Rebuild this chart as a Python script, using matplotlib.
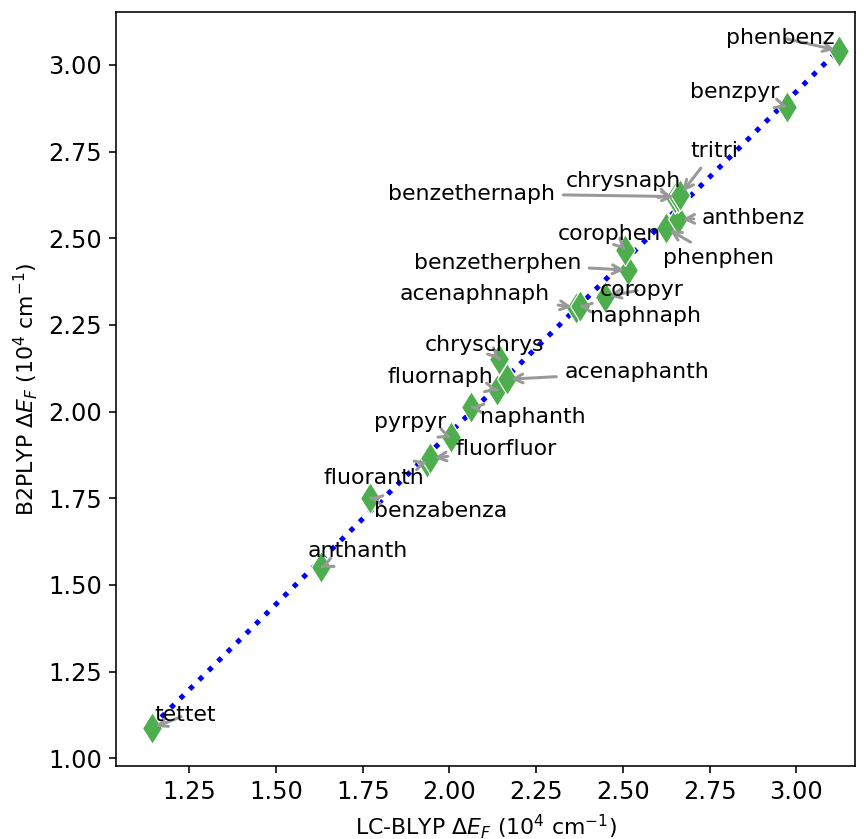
import numpy as np
import matplotlib
matplotlib.use('Agg')
import matplotlib.pyplot as plt

plt.rcParams['font.size'] = 11

# labels and values (10^4 cm^-1)
names = ['tettet', 'anthanth', 'benzabenza', 'fluoranth', 'fluorfluor', 'pyrpyr',
         'naphanth', 'fluornaph', 'acenaphanth', 'chryschrys', 'acenaphnaph', 'naphnaph',
         'coropyr', 'benzetherphen', 'corophen', 'phenphen', 'anthbenz', 'chrysnaph',
         'benzethernaph', 'tritri', 'benzpyr', 'phenbenz']
lc_blyp = [1.142, 1.630, 1.771, 1.935, 1.945, 2.004,
           2.062, 2.138, 2.165, 2.144, 2.365, 2.375,
           2.449, 2.516, 2.507, 2.625, 2.660, 2.650,
           2.658, 2.665, 2.973, 3.122]
b2plyp = [1.087, 1.551, 1.751, 1.855, 1.865, 1.926,
          2.014, 2.062, 2.093, 2.151, 2.300, 2.305,
          2.331, 2.408, 2.466, 2.529, 2.555, 2.615,
          2.620, 2.625, 2.879, 3.041]

# label offsets (points, text centre relative to marker)
offsets = {'tettet': (16.5, 6.5), 'anthanth': (18.5, 8), 'benzabenza': (35.5, -6.5),
           'fluoranth': (-26.5, -8), 'fluorfluor': (38, 4.5), 'pyrpyr': (-20.5, 7.5),
           'naphanth': (31, -5), 'fluornaph': (-28.5, 6.5), 'acenaphanth': (65, 3.5),
           'chryschrys': (-7.5, 7), 'acenaphnaph': (-50.5, 7), 'naphnaph': (33, -5),
           'coropyr': (18, 3.5), 'benzetherphen': (-65.5, 3.5), 'corophen': (-8, 8),
           'phenphen': (26, -15), 'anthbenz': (37.5, 0.5), 'chrysnaph': (-26, 8.5),
           'benzethernaph': (-103, 1.5), 'tritri': (17, 22), 'benzpyr': (-26, 7.5),
           'phenbenz': (-29, 6.5)}

x = np.array(lc_blyp)
y = np.array(b2plyp)

fig = plt.figure(figsize=(6, 839/144), dpi=144)
ax = fig.add_axes([0.134, 0.087, 0.856, 0.899])

k, b = np.polyfit(x, y, 1)
xl = np.array([x.min(), x.max()])
ax.plot(xl, k*xl + b, ':', c='blue', lw=2.5, zorder=1)
ax.plot(x, y, 'd', c='#4cae4c', ms=11.5, mec='white', mew=0.6, zorder=2)

for n, xi, yi in zip(names, x, y):
    ax.annotate(n, (xi, yi), xytext=offsets[n], textcoords='offset points',
                ha='center', va='center', fontsize=11,
                arrowprops=dict(arrowstyle='->', color='#999999', lw=1.5))

ax.set_xlim(1.038, 3.17)
ax.set_ylim(0.978, 3.153)
ax.tick_params(labelsize=12)
ax.set_xlabel(r'LC-BLYP $\Delta E_F$ ($10^4$ cm$^{-1}$)')
ax.set_ylabel(r'B2PLYP $\Delta E_F$ ($10^4$ cm$^{-1}$)')

plt.savefig('out.png')
